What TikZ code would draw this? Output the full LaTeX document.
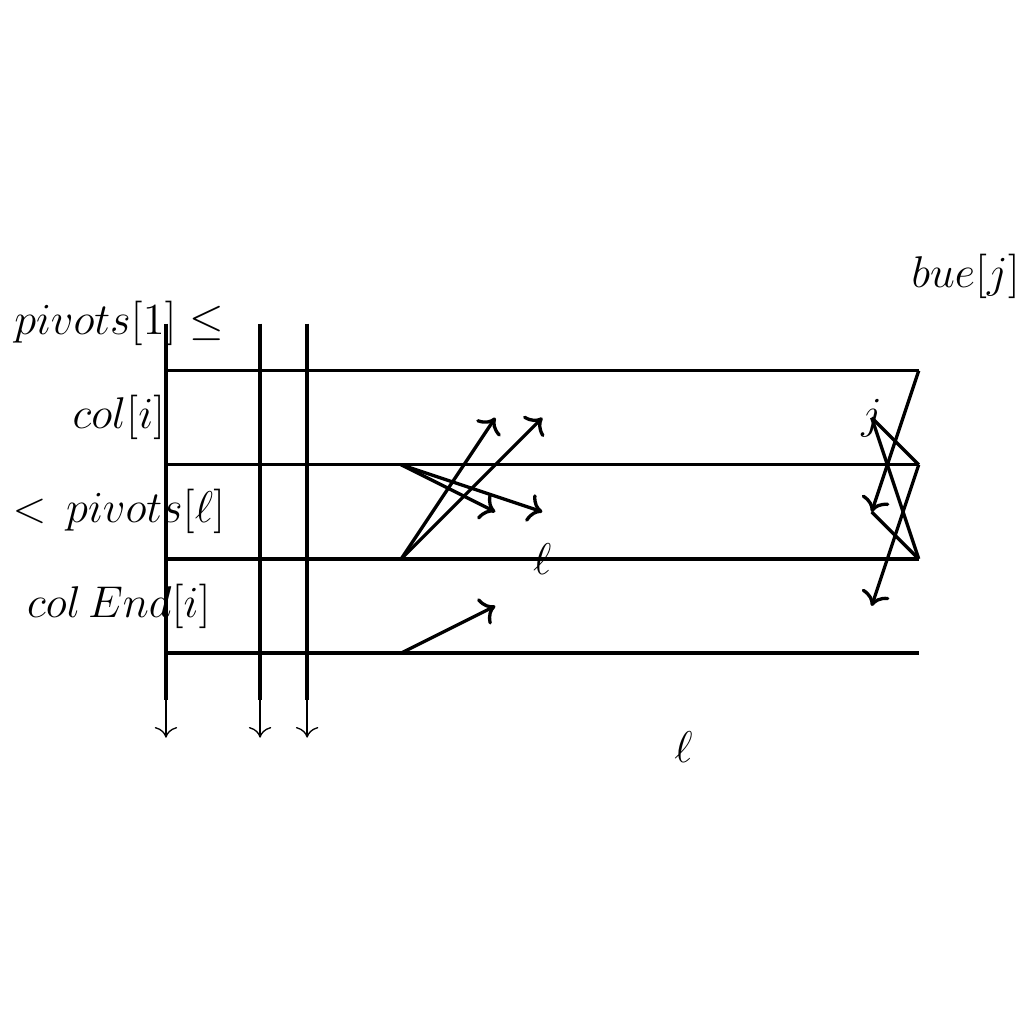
\documentclass[tikz,border=0pt]{standalone}
\usepackage{amssymb}
\usepackage{amsmath}
\usepackage{tikz}
\usetikzlibrary{arrows,arrows.meta,positioning}
\tikzstyle{bar}   = [line width=1pt]
\tikzstyle{arrow} = [line width=1pt,-{To[scale=1.1]}]
\tikzstyle{down}  = [-{To[scale=1.3]}]
\tikzstyle{lbl}   = [font=\large, scale=1.12]

\begin{document}
\begin{tikzpicture}
        \useasboundingbox (-1.764,-3.943) rectangle (9.118,6.94);
        \foreach \n in {0,...,3}
        {
            \coordinate (L\n) at (0,\n);
            \coordinate (R\n) at (8,\n);
            \coordinate (M\n) at (2.5,\n);
            \draw [bar] (L\n) -- (R\n);
        }
        \foreach \n/\x in {0/0,1/1,2/1.5}
        {
            \coordinate (VT\n) at (\x,3.5);
            \coordinate (VB\n) at (\x,-0.5);
            \coordinate (VA\n) at (\x,-0.9);
            \draw [bar] (VT\n) -- (VB\n);
            \draw [down] (VB\n) -- (VA\n);
        }
        \node[lbl] (N0) at (-0.5,3.5) {$pivots[1] \leq$};
        \node[lbl] (N1) at (-0.5,2.5) {$col[i]$};
        \node[lbl] (N2) at (-0.5,1.5) {$<\, pivots[\ell]$};
        \node[lbl] (N3) at (-0.5,0.5) {$col\,End[i]$};
        \node[lbl] (N4) at (8.5,4) {$bue[j]$};
        \node[lbl] (N5) at (4,1) {$\ell$};
        \node[lbl] (N6) at (5.5,-1) {$\ell$};
        \node[lbl, inner sep=0] (J) at (7.5,2.5) {$j$};

        % middle arrows
        \coordinate (A0) at (3.5,0.5);
        \coordinate (A1) at (3.5,1.5);
        \coordinate (A2) at (4,1.5);
        \coordinate (A3) at (3.5,2.5);
        \coordinate (A4) at (4,2.5);
        \draw[arrow] (M0) -- (A0);
        \draw[arrow] (M2) -- (A1);
        \draw[arrow] (M2) -- (A2);
        \draw[arrow] (M1) -- (A3);
        \draw[arrow] (M1) -- (A4);

        % right zigzag
        \coordinate (B0) at (7.5,0.5);
        \coordinate (B1) at (7.5,1.5);
        \draw[arrow] (R3) -- (B1);
        \draw[arrow] (R2) -- (B0);
        \draw[bar] (B1) -- (R1);
        \draw[bar] (J.center) -- (R2);
        \draw[bar] (J.center) -- (R1);
\end{tikzpicture}
\end{document}
